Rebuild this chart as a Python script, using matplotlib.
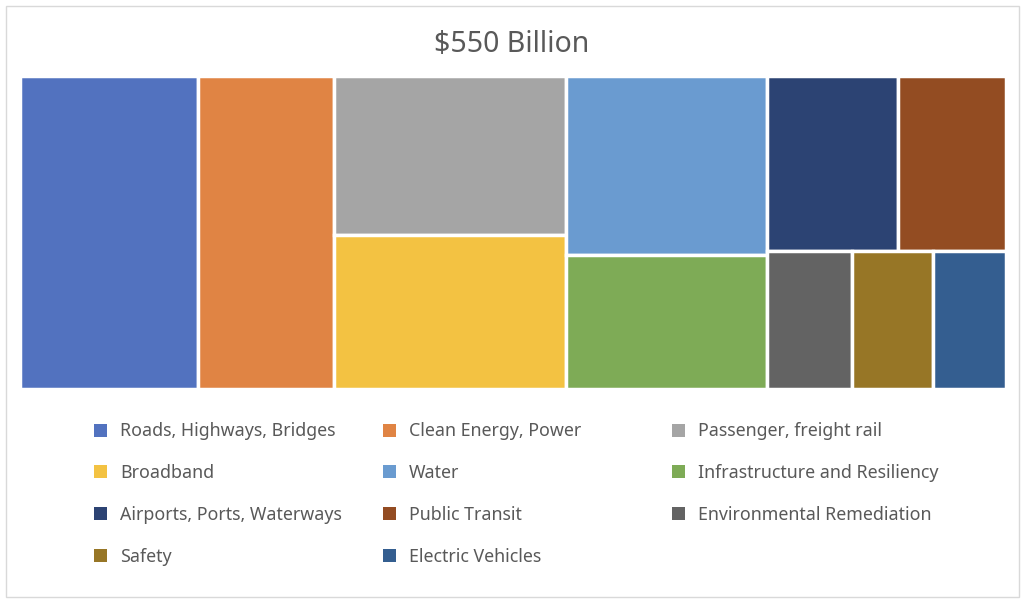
import matplotlib
matplotlib.use("Agg")
import matplotlib.pyplot as plt
from matplotlib.patches import Rectangle

plt.rcParams['font.family'] = ['Noto Sans', 'DejaVu Sans']

# dados (bilhoes de dolares)
labels = ["Roads, Highways, Bridges", "Clean Energy, Power", "Passenger, freight rail",
          "Broadband", "Water", "Infrastructure and Resiliency",
          "Airports, Ports, Waterways", "Public Transit", "Environmental Remediation",
          "Safety", "Electric Vehicles"]
values = [99.5, 75.8, 65.9, 63.7, 64.0, 47.8, 40.9, 33.9, 20.9, 19.8, 17.9]
colors = ["#5272BF", "#E08444", "#A5A5A5", "#F3C242", "#6A9BD0", "#7EAB56",
          "#2C4373", "#934C22", "#636363", "#977626", "#345E90"]
title = "$550 Billion"

# estrutura do treemap: colunas -> linhas -> indices
columns = [[[0]], [[1]], [[2], [3]], [[4], [5]], [[6, 7], [8, 9, 10]]]

W, H = 1024, 603
fig = plt.figure(figsize=(W / 100, H / 100), dpi=100)

# moldura
fig.patches.append(Rectangle((6 / W, 6 / H), 1013 / W, 591 / H, transform=fig.transFigure,
                             fill=False, edgecolor="#D9D9D9", linewidth=1))

ax = fig.add_axes([19.5 / W, (H - 388.8) / H, 986.5 / W, 313.3 / H])
total = sum(values)
ax.set_xlim(0, total)
ax.set_ylim(0, 1)
ax.invert_yaxis()
ax.axis("off")

x = 0
for col in columns:
    col_sum = sum(values[i] for row in col for i in row)
    y = 0
    for row in col:
        row_sum = sum(values[i] for i in row)
        h = row_sum / col_sum
        xx = x
        for i in row:
            w = values[i] / row_sum * col_sum
            ax.add_patch(Rectangle((xx, y), w, h, facecolor=colors[i],
                                   edgecolor="white", linewidth=2.5))
            xx += w
        y += h
    x += col_sum

fig.text(512 / W, 1 - 44 / H, title.replace("$", r"\$"), ha="center", va="center",
         fontsize=20.5, color="#595959")

# legenda
col_x = [94, 383, 672]
row_y = [430, 471, 513, 555]
for k, lab in enumerate(labels):
    cx = col_x[k % 3]
    cy = row_y[k // 3]
    fig.patches.append(Rectangle((cx / W, 1 - (cy + 6.5) / H), 13 / W, 13 / H,
                                 transform=fig.transFigure, facecolor=colors[k],
                                 edgecolor="none"))
    fig.text((cx + 26) / W, 1 - (cy + 1.5) / H, lab, ha="left", va="center",
             fontsize=12.8, color="#595959")

fig.savefig("out.png", dpi=100)
